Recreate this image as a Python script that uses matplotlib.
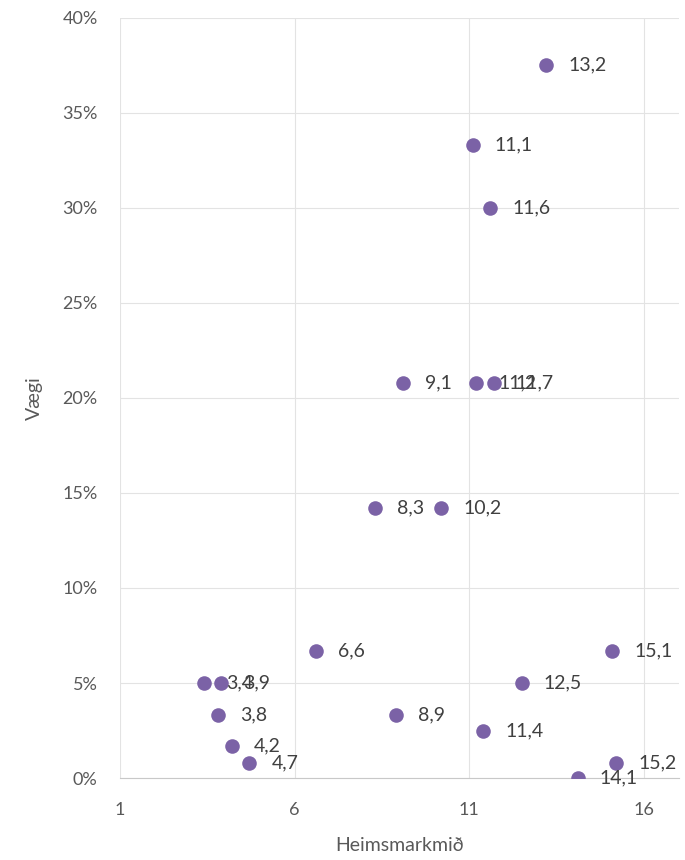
import matplotlib.pyplot as plt
from matplotlib.ticker import FuncFormatter

# Data
heims = [13.2, 11.1, 11.6, 9.1, 11.2, 11.7, 8.3, 10.2, 6.6, 15.1,
         3.4, 3.9, 12.5, 3.8, 8.9, 11.4, 4.2, 4.7, 15.2, 14.1]
vaegi = [37.5, 33.3, 30.0, 20.8, 20.8, 20.8, 14.2, 14.2, 6.7, 6.7,
         5.0, 5.0, 5.0, 3.3, 3.3, 2.5, 1.7, 0.8, 0.8, 0.0]
point_labels = [f"{v:.1f}".replace(".", ",") for v in heims]

plt.rcParams["font.family"] = ["Lato", "DejaVu Sans"]
text_col = "#595959"
grid_col = "#E3E3E3"
dot_col = "#7B62A6"

fig = plt.figure(figsize=(6.85, 8.6), dpi=100)
ax = fig.add_axes([0.175, 0.0953, 0.816, 0.884])

ax.scatter(heims, vaegi, s=110, color=dot_col, zorder=3, linewidths=0)
for x, y, lab in zip(heims, vaegi, point_labels):
    ax.annotate(lab, (x, y), xytext=(16, 0), textcoords="offset points",
                va="center", ha="left", fontsize=14, color="#404040")

ax.set_xlim(1, 17)
ax.set_ylim(0, 40)
ax.set_xticks([1, 6, 11, 16])
ax.set_yticks(range(0, 41, 5))
ax.yaxis.set_major_formatter(FuncFormatter(lambda v, p: f"{v:.0f}%"))
ax.grid(color=grid_col, linewidth=0.8, zorder=0)
ax.set_axisbelow(True)
for side in ["top", "right", "left"]:
    ax.spines[side].set_visible(False)
ax.spines["bottom"].set_color("#C8C8C8")
ax.tick_params(length=0, labelsize=13, labelcolor=text_col)
ax.tick_params(axis="x", pad=17)
ax.tick_params(axis="y", pad=16)

ax.set_xlabel("Heimsmarkmið", fontsize=14, color=text_col, labelpad=14)
ax.set_ylabel("Vægi", fontsize=14, color=text_col, labelpad=14)

fig.savefig("out.png", dpi=100)
